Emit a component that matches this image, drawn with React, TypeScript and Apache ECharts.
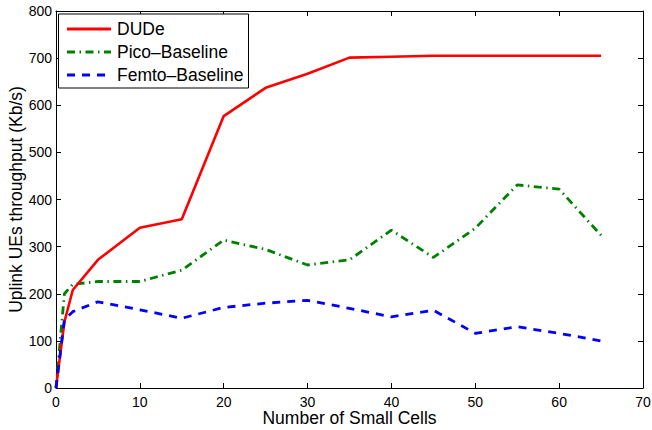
import React, { useEffect, useRef } from "react";
import * as echarts from "echarts";

const xValues = [0, 1, 2, 5, 10, 15, 20, 25, 30, 35, 40, 45, 50, 55, 60, 65];
const dudeValues = [0, 140, 208, 272, 340, 358, 577, 637, 667, 701, 703, 705, 705, 705, 705, 705];
const picoValues = [0, 200, 220, 226, 226, 250, 314, 294, 261, 272, 335, 277, 339, 431, 422, 324];
const femtoValues = [0, 145, 162, 183, 166, 148, 171, 180, 186, 169, 151, 165, 116, 130, 116, 100];
const seriesNames = ["DUDe", "Pico–Baseline", "Femto–Baseline"];
const seriesColors = ["#ff0000", "#008000", "#0000ff"];
const xAxisTitle = "Number of Small Cells";
const yAxisTitle = "Uplink UEs throughput (Kb/s)";

const FONT = "'Liberation Sans', Arial, Helvetica, sans-serif";
const DASHES: (number[] | null)[] = [null, [8, 4.5, 1.5, 4.5], [8, 7]];

function pairs(values: number[]) {
  return xValues.map((x, i) => [x, values[i]]);
}

export default function App() {
  const ref = useRef<HTMLDivElement>(null);
  useEffect(() => {
    if (!ref.current) return;
    const chart = echarts.init(ref.current, null, { renderer: "svg" });
    const axisCommon = {
      axisLine: { show: true, onZero: false, lineStyle: { color: "#000", width: 1 } },
      axisTick: { show: true, inside: true, length: 5, lineStyle: { color: "#000", width: 1 } },
      splitLine: { show: false },
    };
    const legendX = 58.5;
    const legendY = 14;
    const rowH = 23;
    const legendElements: any[] = [
      {
        type: "rect",
        shape: { x: legendX, y: legendY, width: 190, height: 74 },
        style: { fill: "#fff", stroke: "#000", lineWidth: 1 },
        z: 10,
      },
    ];
    seriesNames.forEach((name, i) => {
      const cy = legendY + 15 + rowH * i;
      legendElements.push({
        type: "line",
        shape: { x1: 67, y1: cy, x2: 111, y2: cy },
        style: {
          stroke: seriesColors[i],
          lineWidth: 2.8,
          lineDash: DASHES[i] || undefined,
        },
        z: 11,
      });
      legendElements.push({
        type: "text",
        x: 117,
        y: cy,
        style: {
          text: name,
          font: `17.5px ${FONT}`,
          fill: "#000",
          verticalAlign: "middle",
          align: "left",
        },
        z: 11,
      });
    });
    chart.setOption({
      animation: false,
      backgroundColor: "#fff",
      textStyle: { fontFamily: FONT },
      grid: { left: 56, right: 9, top: 11, bottom: 42, outerBoundsMode: "none", containLabel: false },
      graphic: legendElements,
      xAxis: [
        {
          ...axisCommon,
          type: "value",
          min: 0,
          max: 70,
          interval: 10,
          position: "bottom",
          name: xAxisTitle,
          nameLocation: "middle",
          nameGap: 21,
          nameMoveOverlap: false,
          nameTextStyle: { fontFamily: FONT, fontSize: 17.5, color: "#000" },
          axisLabel: { fontFamily: FONT, fontSize: 14, color: "#000", margin: 6.5 },
        },
        {
          ...axisCommon,
          type: "value",
          min: 0,
          max: 70,
          interval: 10,
          position: "top",
          axisLabel: { show: false },
        },
      ],
      yAxis: [
        {
          ...axisCommon,
          type: "value",
          min: 0,
          max: 800,
          interval: 100,
          position: "left",
          name: yAxisTitle,
          nameLocation: "middle",
          nameGap: 31,
          nameMoveOverlap: false,
          nameTextStyle: { fontFamily: FONT, fontSize: 17.5, color: "#000" },
          axisLabel: { fontFamily: FONT, fontSize: 14, color: "#000", margin: 4 },
        },
        {
          ...axisCommon,
          type: "value",
          min: 0,
          max: 800,
          interval: 100,
          position: "right",
          axisLabel: { show: false },
        },
      ],
      series: [
        {
          name: seriesNames[0],
          type: "line",
          data: pairs(dudeValues),
          showSymbol: false,
          symbol: "none",
          lineStyle: { color: seriesColors[0], width: 2.6, type: "solid" },
          itemStyle: { color: seriesColors[0] },
          z: 3,
        },
        {
          name: seriesNames[1],
          type: "line",
          data: pairs(picoValues),
          showSymbol: false,
          symbol: "none",
          lineStyle: { color: seriesColors[1], width: 2.8, type: DASHES[1] },
          itemStyle: { color: seriesColors[1] },
          z: 2,
        },
        {
          name: seriesNames[2],
          type: "line",
          data: pairs(femtoValues),
          showSymbol: false,
          symbol: "none",
          lineStyle: { color: seriesColors[2], width: 2.8, type: DASHES[2] },
          itemStyle: { color: seriesColors[2] },
          z: 4,
        },
      ],
    });
    return () => chart.dispose();
  }, []);
  return (
    <div
      ref={ref}
      style={{ width: 652, height: 430, position: "absolute", left: 0, top: 0 }}
    />
  );
}
